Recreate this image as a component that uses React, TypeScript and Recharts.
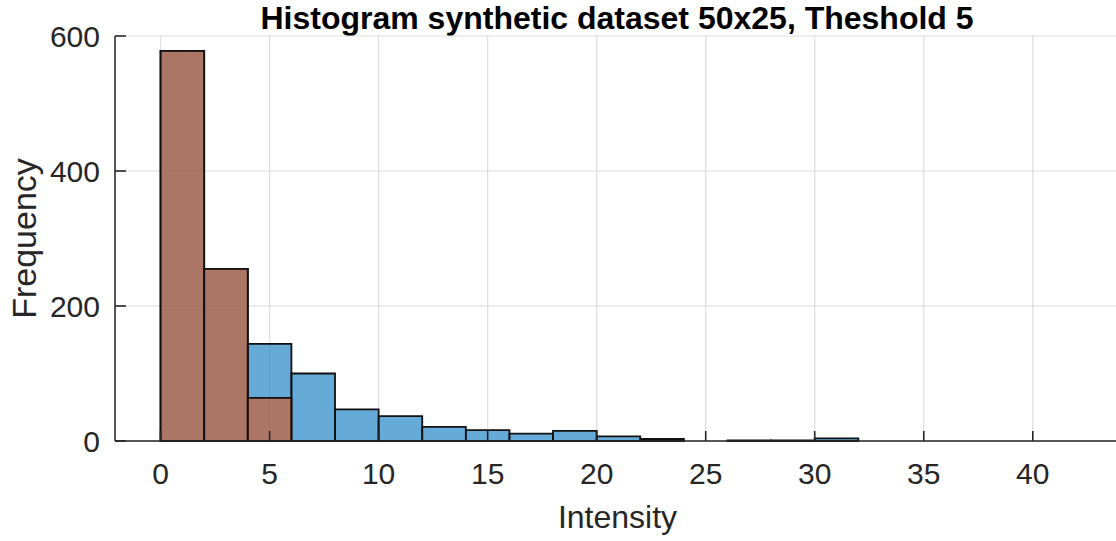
import React from "react";
import {
  ComposedChart,
  Line,
  XAxis,
  YAxis,
  CartesianGrid,
  ReferenceArea,
} from "recharts";

// histogram bins: left edge of each 2-wide bin
const binStarts = [0, 2, 4, 6, 8, 10, 12, 14, 16, 18, 20, 22, 24, 26, 28, 30];
const binWidth = 2;
// counts for every pixel
const allCounts = [578, 255, 144, 100, 47, 37, 21, 16, 11, 15, 7, 3, 0, 1, 1, 4];
// counts for pixels under the threshold
const belowCounts = [578, 255, 64, 0, 0, 0, 0, 0, 0, 0, 0, 0, 0, 0, 0, 0];

const xTicks = [0, 5, 10, 15, 20, 25, 30, 35, 40];
const yTicks = [0, 200, 400, 600];

const FONT = "'Liberation Sans', Arial, Helvetica, sans-serif";
const AXIS = "#262626";

const rows = binStarts.map((lo, i) => ({
  lo,
  hi: lo + binWidth,
  mid: lo + binWidth / 2,
  all: allCounts[i],
  below: belowCounts[i],
}));

const tickText = { fill: AXIS, fontSize: 30, fontFamily: FONT };
const axisStroke = { stroke: AXIS, strokeWidth: 1.5 };
const tickStroke = { stroke: AXIS, strokeWidth: 1.6 };

const Bins = (key: "all" | "below", color: string) =>
  rows
    .filter((r) => r[key] > 0)
    .map((r) => (
      <ReferenceArea
        key={`${key}-${r.lo}`}
        x1={r.lo}
        x2={r.hi}
        y1={0}
        y2={r[key]}
        fill={color}
        fillOpacity={0.6}
        stroke="#111"
        strokeWidth={1.8}
        strokeOpacity={1}
        ifOverflow="visible"
      />
    ));

export default function App() {
  return (
    <div
      style={{
        position: "absolute",
        left: 0,
        top: 0,
        width: 1116,
        height: 541,
        overflow: "hidden",
        background: "#fff",
        fontFamily: FONT,
      }}
    >
      <div
        style={{
          position: "absolute",
          left: 117,
          top: 0,
          width: 1000,
          textAlign: "center",
          fontSize: 32,
          lineHeight: "36px",
          fontWeight: "bold",
          color: "#000",
          whiteSpace: "nowrap",
        }}
      >
        Histogram synthetic dataset 50x25, Theshold 5
      </div>
      <ComposedChart
        width={1125}
        height={541}
        data={rows}
        margin={{ top: 36, right: 5, bottom: 0, left: 0 }}
      >
        <CartesianGrid stroke="#dedede" strokeWidth={1.2} />
        {/* negative tick sizes turn the tick marks inward, MATLAB style */}
        <XAxis
          dataKey="mid"
          type="number"
          domain={[-2.09, 44]}
          ticks={xTicks}
          allowDataOverflow
          height={100}
          tickSize={-10}
          tickMargin={32}
          tickLine={tickStroke}
          tick={tickText}
          axisLine={axisStroke}
          label={{
            value: "Intensity",
            position: "insideBottom",
            offset: 13,
            fill: AXIS,
            fontSize: 32,
            fontFamily: FONT,
          }}
        />
        <XAxis
          xAxisId="top"
          orientation="top"
          type="number"
          domain={[-2.09, 44]}
          ticks={xTicks}
          allowDataOverflow
          height={0}
          tickSize={-10}
          tickMargin={0}
          tickLine={tickStroke}
          tickFormatter={() => ""}
          axisLine={axisStroke}
        />
        <YAxis
          type="number"
          domain={[0, 600]}
          ticks={yTicks}
          width={115}
          tickSize={-11}
          tickMargin={26}
          tickLine={tickStroke}
          tick={tickText}
          axisLine={axisStroke}
          label={{
            value: "Frequency",
            angle: -90,
            position: "insideLeft",
            offset: 24,
            fill: AXIS,
            fontSize: 34,
            fontFamily: FONT,
            style: { textAnchor: "middle" },
          }}
        />
        {Bins("all", "#0072BD")}
        {Bins("below", "#D95319")}
        <Line
          dataKey="all"
          stroke="none"
          dot={false}
          activeDot={false}
          legendType="none"
          isAnimationActive={false}
        />
      </ComposedChart>
    </div>
  );
}
